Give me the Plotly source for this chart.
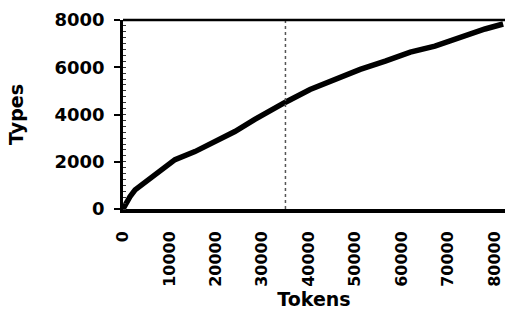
import plotly.graph_objects as go

tokens = [0, 700, 1500, 2600, 5400, 8400, 11200, 15500, 19800, 24100, 28400, 32100,
          34900, 40300, 45700, 51100, 56500, 61900, 67200, 72600, 78000, 81900]
types = [0, 300, 520, 810, 1230, 1740, 2090, 2430, 2850, 3280, 3790, 4210,
         4510, 5060, 5490, 5910, 6260, 6640, 6890, 7280, 7620, 7830]
x_ticks = [0, 10000, 20000, 30000, 40000, 50000, 60000, 70000, 80000]
y_ticks = [0, 2000, 4000, 6000, 8000]
marker_x = 35000

font_fam = "DejaVu Sans, Liberation Sans, Arial, sans-serif"

fig = go.Figure()
fig.add_trace(go.Scatter(x=tokens, y=types, mode="lines",
                         line=dict(color="black", width=5.5),
                         showlegend=False, hoverinfo="skip"))

fig.add_shape(type="line", xref="x", yref="paper", x0=marker_x, x1=marker_x, y0=0, y1=1,
              line=dict(color="#555", width=1.5, dash="dot"))
fig.add_shape(type="line", xref="paper", yref="paper", x0=0, x1=1, y0=1, y1=1,
              line=dict(color="black", width=2.5))

fig.update_layout(
    width=505, height=326,
    margin=dict(l=123, r=0, t=20, b=117),
    paper_bgcolor="white", plot_bgcolor="white",
    font=dict(family=font_fam, color="black"),
    xaxis=dict(range=[0, 82300], tickvals=x_ticks, ticktext=[str(v) for v in x_ticks],
               tickangle=-90, tickfont=dict(size=16, family=font_fam, weight="bold"),
               showline=True, linecolor="black", linewidth=3.5, showgrid=False, zeroline=False,
               ticks="", ticklabelstandoff=12,
               title=dict(text="<b>Tokens</b>", font=dict(size=19), standoff=8)),
    yaxis=dict(range=[0, 8000], tickvals=y_ticks, ticktext=[str(v) for v in y_ticks],
               tickfont=dict(size=18, family=font_fam, weight="bold"),
               showline=True, linecolor="black", linewidth=2.5, showgrid=False, zeroline=False,
               ticks="outside", ticklen=6, tickwidth=2, tickcolor="black",
               ticklabelstandoff=6,
               minor=dict(ticks="inside", dtick=250, ticklen=3, tickcolor="#333", tickwidth=1),
               title=dict(text="<b>Types</b>", font=dict(size=19), standoff=26)),
)

fig.write_html("out.html", config={"displayModeBar": False},
               post_script="document.body.style.margin='0';document.body.style.overflow='hidden';")
